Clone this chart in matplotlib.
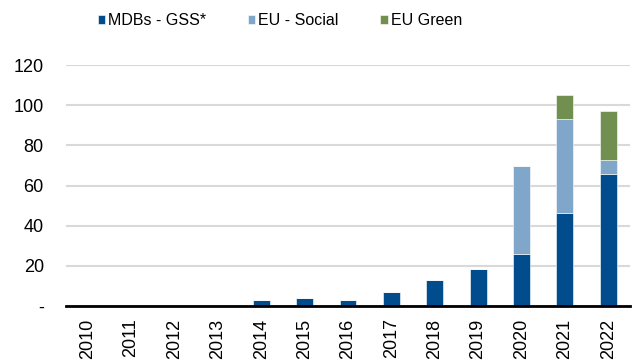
import matplotlib
matplotlib.use("Agg")
import matplotlib.pyplot as plt
import numpy as np

plt.rcParams['font.family'] = ['Liberation Sans', 'DejaVu Sans']

years = ['2010', '2011', '2012', '2013', '2014', '2015', '2016', '2017', '2018', '2019', '2020', '2021', '2022']
mdbs_gss = [0, 0, 0, 0, 3.0, 3.8, 3.0, 7.0, 13.0, 18.5, 26.0, 46.5, 66.0]
eu_social = [0, 0, 0, 0, 0, 0, 0, 0, 0, 0, 44.0, 46.5, 6.8]
eu_green = [0, 0, 0, 0, 0, 0, 0, 0, 0, 0, 0, 12.0, 24.5]
series_names = ['MDBs - GSS*', 'EU - Social', 'EU Green']
colors = ['#004C8D', '#80A7C9', '#71904F']
yticks = [0, 20, 40, 60, 80, 100, 120]
ytick_labels = ['-', '20', '40', '60', '80', '100', '120']

fig = plt.figure(figsize=(6.35, 3.6), dpi=100)
ax = fig.add_axes([0.104, 0.15, 0.888, 0.669])

x = np.arange(len(years))
w = 0.39
b1 = np.array(mdbs_gss)
b2 = b1 + np.array(eu_social)
kw = dict(edgecolor='white', linewidth=0.4, zorder=3)
ax.bar(x, mdbs_gss, w, color=colors[0], label=series_names[0], **kw)
ax.bar(x, eu_social, w, bottom=b1, color=colors[1], label=series_names[1], **kw)
ax.bar(x, eu_green, w, bottom=b2, color=colors[2], label=series_names[2], **kw)

ax.set_ylim(0, 120)
ax.set_xlim(-0.5, len(years) - 0.5)
ax.set_yticks(yticks)
ax.set_yticklabels(ytick_labels, fontsize=13)
ax.set_xticks(x)
ax.set_xticklabels(years, rotation=90, fontsize=13)
ax.tick_params(length=0)
ax.tick_params(axis='x', pad=9)
ax.tick_params(axis='y', pad=16)
ax.grid(axis='y', color='#D9D9D9', linewidth=1.5, zorder=0)
for s in ['top', 'right', 'left']:
    ax.spines[s].set_visible(False)
ax.spines['bottom'].set_color('black')
ax.spines['bottom'].set_linewidth(2)
ax.spines['bottom'].set_zorder(4)

fig.legend(loc='center', bbox_to_anchor=(0.441, 0.942), ncol=3, frameon=False,
           fontsize=11.5, handlelength=0.45, handleheight=0.45, handletextpad=0.2,
           columnspacing=2.6, borderpad=0)

fig.savefig('out.png', dpi=100)
